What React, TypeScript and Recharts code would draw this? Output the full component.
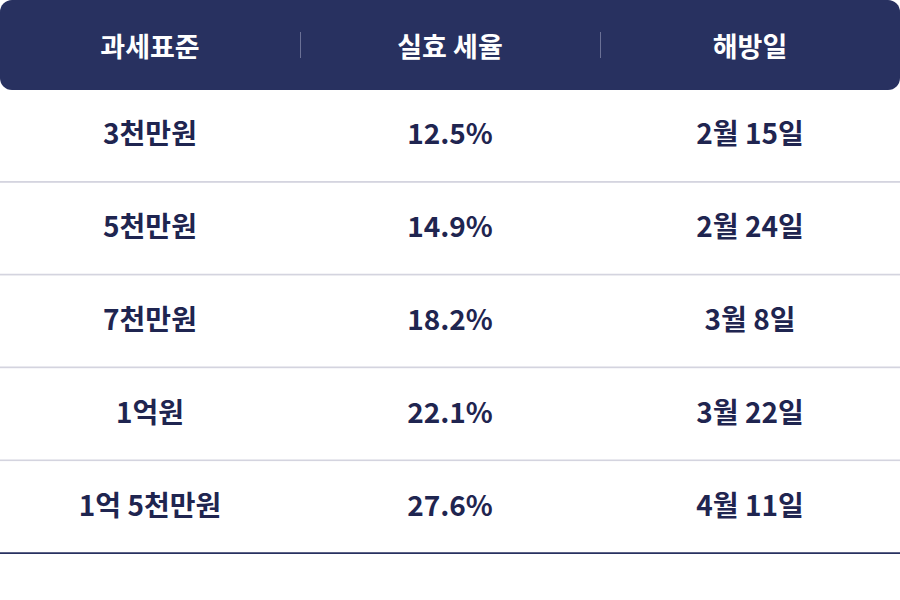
import React from "react";
import { BarChart, Bar, XAxis, YAxis, LabelList } from "recharts";

const headers = ["과세표준", "실효 세율", "해방일"];
const brackets = ["3천만원", "5천만원", "7천만원", "1억원", "1억 5천만원"];
const rates = ["12.5%", "14.9%", "18.2%", "22.1%", "27.6%"];
const freedomDays = ["2월 15일", "2월 24일", "3월 8일", "3월 22일", "4월 11일"];

const NAVY = "#283160";
const TEXT = "#1f2550";
const FONT = "'Noto Sans CJK KR', 'Noto Sans', sans-serif";

const rows = brackets.map((b, i) => ({
  bracket: b,
  rate: rates[i],
  day: freedomDays[i],
  c1: 1,
  c2: 1,
  c3: 1,
  last: i === brackets.length - 1,
}));

function CellShape(props: any) {
  const { x, y, width, height, payload } = props;
  const last = payload && payload.last;
  return (
    <g>
      <rect x={x} y={y} width={width} height={height} fill="#ffffff" />
      <line
        x1={x}
        x2={x + width}
        y1={y + height - (last ? 1 : 1)}
        y2={y + height - (last ? 1 : 1)}
        stroke={last ? NAVY : "#d4d4df"}
        strokeWidth={last ? 2 : 2}
      />
    </g>
  );
}

export default function App() {
  return (
    <div style={{ position: "absolute", left: 0, top: 0, width: 900, height: 600, background: "#fff", fontFamily: FONT }}>
      <div
        style={{
          height: 90,
          background: NAVY,
          borderRadius: 12,
          display: "flex",
          alignItems: "center",
          position: "relative",
        }}
      >
        {headers.map((h, i) => (
          <div key={h} style={{ flex: 1, textAlign: "center", color: "#fff", fontSize: 27, fontWeight: 700 }}>
            {h}
          </div>
        ))}
        {[300, 600].map((x) => (
          <div key={x} style={{ position: "absolute", left: x, top: 32, width: 1, height: 26, background: "#6b7196" }} />
        ))}
      </div>
      <BarChart
        width={900}
        height={464}
        data={rows}
        layout="vertical"
        margin={{ top: 0, right: 0, bottom: 0, left: 0 }}
        barCategoryGap={0}
        style={{ fontFamily: FONT }}
      >
        <XAxis type="number" domain={[0, 3]} hide />
        <YAxis type="category" dataKey="bracket" hide />
        {(["c1", "c2", "c3"] as const).map((k, i) => (
          <Bar key={k} dataKey={k} stackId="a" shape={CellShape} isAnimationActive={false}>
            <LabelList
              dataKey={["bracket", "rate", "day"][i]}
              position="center"
              fill={TEXT}
              fontSize={28}
              fontWeight={700}
              dy={-2}
            />
          </Bar>
        ))}
      </BarChart>
    </div>
  );
}
